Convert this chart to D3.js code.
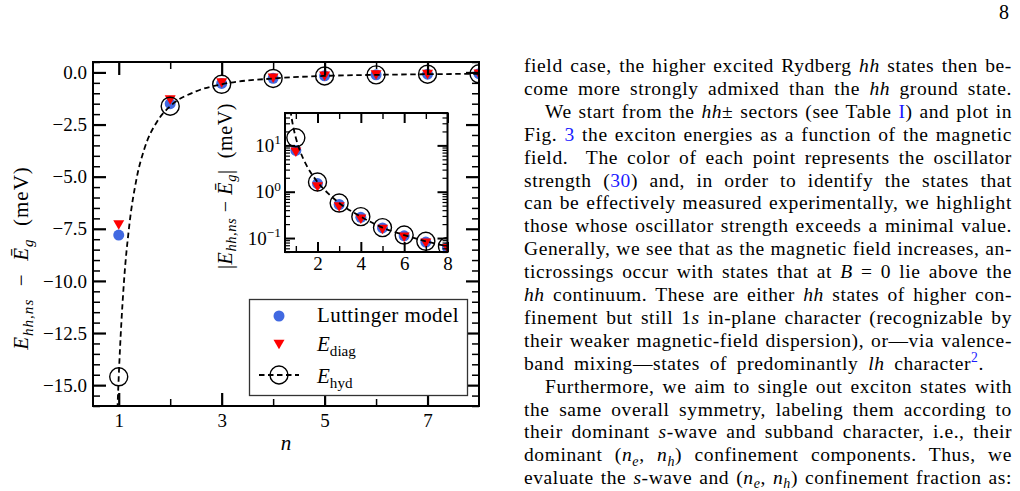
<!DOCTYPE html>
<meta charset="utf-8">
<style>
  body { margin: 0; background: #fff; }
  svg { display: block; font-family: "Liberation Serif", "Times New Roman", serif; }
  text { white-space: pre; }
</style>
<body>
<svg id="page" width="1020" height="491"></svg>
<script src="https://d3js.org/d3.v7.min.js"></script>
<script>

// values (meV)
var nVals = [1, 2, 3, 4, 5, 6, 7, 8];
var eLuttinger = [-7.8, -1.5, -0.53, -0.28, -0.165, -0.112, -0.082, -0.062];
var eDiag = [-7.3, -1.3, -0.48, -0.26, -0.157, -0.106, -0.079, -0.06];
var eHyd = [-14.6, -1.62, -0.57, -0.29, -0.168, -0.116, -0.085, -0.066];

// dashed E_hyd curve, sampled off the plot
var hydCurveN = [0.75, 0.8, 0.9, 0.97, 1.0, 1.1, 1.2, 1.35, 1.5, 1.75, 2, 2.5, 3, 4, 5, 6, 7, 8];
var hydCurveE = [-58, -40.5, -22.8, -16.5, -14.6, -10.1, -7.45, -5.05, -3.65, -2.34, -1.62, -0.91, -0.57, -0.29, -0.168, -0.116, -0.085, -0.066];

// ticks
var xTicksMain = [1, 3, 5, 7];
var xMinorMain = [2, 4, 6];
var yTicksMain = [0, -2.5, -5, -7.5, -10, -12.5, -15];
var xTicksInset = [2, 4, 6, 8];
var xMinorInset = [1, 3, 5, 7];
var yTicksInset = [10, 1, 0.1];

var svg = d3.select("#page");
svg.append("rect").attr("width", 1020).attr("height", 491).attr("fill", "#fff");

var BLUE = "#4169e1", RED = "#ff0000";

// mixed roman / italic / sub / sup text
function rich(t, segs, size) {
  var shift = 0;
  segs.forEach(function(s) {
    var kind = s[1] || "";
    var ts = t.append("tspan").text(s[0]);
    var want = 0;
    if (kind.indexOf("sub") >= 0) { want = size * 0.22; ts.attr("font-size", size * 0.72); }
    if (kind.indexOf("sup") >= 0) { want = -size * 0.4; ts.attr("font-size", size * 0.7); }
    if (want != shift) { ts.attr("dy", want - shift); shift = want; }
    if (kind.indexOf("i") == 0 || kind == "isub") ts.attr("font-style", "italic");
    if (kind.indexOf("link") >= 0 || kind == "sup") ts.attr("fill", "#1a1aff");
  });
  return t;
}

function styleAxis(g, w, size) {
  g.attr("font-family", null).attr("font-size", null);
  g.select(".domain").remove();
  g.selectAll(".tick line").attr("stroke", "#000").attr("stroke-width", w);
  g.selectAll(".tick text").attr("fill", "#000").attr("font-size", size);
}

// ---------------- main axes
var main = {left: 93, right: 479, top: 62, bottom: 406};
var x = d3.scaleLinear().domain([0.5, 8]).range([main.left, main.right]);
var y = d3.scaleLinear().domain([-16, 0.5]).range([main.bottom, main.top]);

var yMinorMain = d3.range(-16, 0.51, 0.5).filter(function(v) { return yTicksMain.indexOf(v) < 0; });

svg.append("clipPath").attr("id", "clipMain").append("rect")
  .attr("x", main.left).attr("y", main.top)
  .attr("width", main.right - main.left).attr("height", main.bottom - main.top);

var gm = svg.append("g").attr("clip-path", "url(#clipMain)");

gm.selectAll(".lut").data(nVals).enter().append("circle")
  .attr("cx", function(d) { return x(d); })
  .attr("cy", function(d, i) { return y(eLuttinger[i]); })
  .attr("r", 5.5).attr("fill", BLUE);

var tri = "M-5.5,-4.3L5.5,-4.3L0,5.2Z";
gm.selectAll(".diag").data(nVals).enter().append("path")
  .attr("d", tri)
  .attr("transform", function(d, i) { return "translate(" + x(d) + "," + y(eDiag[i]) + ")"; })
  .attr("fill", RED);

var lineMain = d3.line().curve(d3.curveMonotoneX)
  .x(function(d) { return x(d); })
  .y(function(d, i) { return y(hydCurveE[i]); });
gm.append("path").attr("d", lineMain(hydCurveN))
  .attr("fill", "none").attr("stroke", "#000").attr("stroke-width", 1.8)
  .attr("stroke-dasharray", "5.5,3.5");

gm.selectAll(".hyd").data(nVals).enter().append("circle")
  .attr("cx", function(d) { return x(d); })
  .attr("cy", function(d, i) { return y(eHyd[i]); })
  .attr("r", 9).attr("fill", "none").attr("stroke", "#000").attr("stroke-width", 1.4);

// ticks, all pointing inwards
styleAxis(svg.append("g").attr("transform", "translate(0," + main.bottom + ")")
  .call(d3.axisBottom(x).tickValues(xTicksMain).tickSize(-13).tickPadding(8).tickFormat(d3.format("d"))), 2.2, 19);
styleAxis(svg.append("g").attr("transform", "translate(0," + main.bottom + ")")
  .call(d3.axisBottom(x).tickValues(xMinorMain).tickSize(-7).tickFormat("")), 1.5, 19);
styleAxis(svg.append("g").attr("transform", "translate(0," + main.top + ")")
  .call(d3.axisTop(x).tickValues(xTicksMain).tickSize(-13).tickFormat("")), 2.2, 19);
styleAxis(svg.append("g").attr("transform", "translate(0," + main.top + ")")
  .call(d3.axisTop(x).tickValues(xMinorMain).tickSize(-7).tickFormat("")), 1.5, 19);
styleAxis(svg.append("g").attr("transform", "translate(" + main.left + ",0)")
  .call(d3.axisLeft(y).tickValues(yTicksMain).tickSize(-13).tickPadding(6).tickFormat(d3.format(".1f"))), 2.2, 19);
styleAxis(svg.append("g").attr("transform", "translate(" + main.left + ",0)")
  .call(d3.axisLeft(y).tickValues(yMinorMain).tickSize(-7).tickFormat("")), 1.5, 19);
styleAxis(svg.append("g").attr("transform", "translate(" + main.right + ",0)")
  .call(d3.axisRight(y).tickValues(yTicksMain).tickSize(-13).tickFormat("")), 2.2, 19);
styleAxis(svg.append("g").attr("transform", "translate(" + main.right + ",0)")
  .call(d3.axisRight(y).tickValues(yMinorMain).tickSize(-7).tickFormat("")), 1.5, 19);

svg.append("rect").attr("x", main.left).attr("y", main.top)
  .attr("width", main.right - main.left).attr("height", main.bottom - main.top)
  .attr("fill", "none").attr("stroke", "#000").attr("stroke-width", 2);

// axis labels
svg.append("text").attr("x", (main.left + main.right) / 2).attr("y", 450)
  .attr("text-anchor", "middle").attr("font-size", 21).attr("font-style", "italic").text("n");

rich(svg.append("text").attr("transform", "translate(28,258) rotate(-90)")
  .attr("text-anchor", "middle").attr("font-size", 21).attr("letter-spacing", 1.0),
  [["E", "i"], ["hh,ns", "isub"], ["  −  "], ["Ē", "i"], ["g", "isub"], ["  (meV)"]], 21);

// ---------------- inset
var inset = {left: 285, right: 447.5, top: 113, bottom: 252};
var xi = d3.scaleLinear().domain([0.5, 8]).range([inset.left, inset.right]);
var yi = d3.scaleLog().domain([0.05, 50]).range([inset.bottom, inset.top]);

var yMinorInset = [];
[0.01, 0.1, 1, 10].forEach(function(dec) {
  for (var k = 2; k <= 9; k++) {
    var v = +(k * dec).toPrecision(2);
    if (v >= 0.05 && v <= 50) yMinorInset.push(v);
  }
});

svg.append("rect").attr("x", inset.left).attr("y", inset.top)
  .attr("width", inset.right - inset.left).attr("height", inset.bottom - inset.top)
  .attr("fill", "#fff");

svg.append("clipPath").attr("id", "clipInset").append("rect")
  .attr("x", inset.left).attr("y", inset.top)
  .attr("width", inset.right - inset.left).attr("height", inset.bottom - inset.top);

var gi = svg.append("g").attr("clip-path", "url(#clipInset)");

gi.selectAll(".lut").data(nVals).enter().append("circle")
  .attr("cx", function(d) { return xi(d); })
  .attr("cy", function(d, i) { return yi(Math.abs(eLuttinger[i])); })
  .attr("r", 5.5).attr("fill", BLUE);

gi.selectAll(".diag").data(nVals).enter().append("path")
  .attr("d", tri)
  .attr("transform", function(d, i) { return "translate(" + xi(d) + "," + yi(Math.abs(eDiag[i])) + ")"; })
  .attr("fill", RED);

var lineInset = d3.line().curve(d3.curveMonotoneX)
  .x(function(d) { return xi(d); })
  .y(function(d, i) { return yi(Math.abs(hydCurveE[i])); });
gi.append("path").attr("d", lineInset(hydCurveN))
  .attr("fill", "none").attr("stroke", "#000").attr("stroke-width", 1.8)
  .attr("stroke-dasharray", "5.5,3.5");

gi.selectAll(".hyd").data(nVals).enter().append("circle")
  .attr("cx", function(d) { return xi(d); })
  .attr("cy", function(d, i) { return yi(Math.abs(eHyd[i])); })
  .attr("r", 9).attr("fill", "none").attr("stroke", "#000").attr("stroke-width", 1.4);

styleAxis(svg.append("g").attr("transform", "translate(0," + inset.bottom + ")")
  .call(d3.axisBottom(xi).tickValues(xTicksInset).tickSize(-10).tickPadding(5).tickFormat(d3.format("d"))), 2, 19);
styleAxis(svg.append("g").attr("transform", "translate(0," + inset.bottom + ")")
  .call(d3.axisBottom(xi).tickValues(xMinorInset).tickSize(-6).tickFormat("")), 1.4, 19);
styleAxis(svg.append("g").attr("transform", "translate(0," + inset.top + ")")
  .call(d3.axisTop(xi).tickValues(xTicksInset).tickSize(-10).tickFormat("")), 2, 19);
styleAxis(svg.append("g").attr("transform", "translate(0," + inset.top + ")")
  .call(d3.axisTop(xi).tickValues(xMinorInset).tickSize(-6).tickFormat("")), 1.4, 19);

var yiAxis = svg.append("g").attr("transform", "translate(" + inset.left + ",0)")
  .call(d3.axisLeft(yi).tickValues(yTicksInset).tickSize(-10).tickPadding(4).tickFormat(""));
styleAxis(yiAxis, 2, 19);
yiAxis.selectAll(".tick text").each(function(d) {
  var e = Math.round(Math.log10(d));
  rich(d3.select(this), [["10"], [e < 0 ? "−" + (-e) : "" + e, "supk"]], 19);
});
yiAxis.selectAll(".tick text tspan").attr("fill", "#000");
styleAxis(svg.append("g").attr("transform", "translate(" + inset.left + ",0)")
  .call(d3.axisLeft(yi).tickValues(yMinorInset).tickSize(-5).tickFormat("")), 1.2, 19);
styleAxis(svg.append("g").attr("transform", "translate(" + inset.right + ",0)")
  .call(d3.axisRight(yi).tickValues(yTicksInset).tickSize(-10).tickFormat("")), 2, 19);
styleAxis(svg.append("g").attr("transform", "translate(" + inset.right + ",0)")
  .call(d3.axisRight(yi).tickValues(yMinorInset).tickSize(-5).tickFormat("")), 1.2, 19);

svg.append("rect").attr("x", inset.left).attr("y", inset.top)
  .attr("width", inset.right - inset.left).attr("height", inset.bottom - inset.top)
  .attr("fill", "none").attr("stroke", "#000").attr("stroke-width", 2);

rich(svg.append("text").attr("transform", "translate(232,186) rotate(-90)")
  .attr("text-anchor", "middle").attr("font-size", 20).attr("letter-spacing", 0.6),
  [["|"], ["E", "i"], ["hh,ns", "isub"], [" − "], ["Ē", "i"], ["g", "isub"], ["|  (meV)"]], 20);

// ---------------- legend
var lg = svg.append("g");
lg.append("rect").attr("x", 249.5).attr("y", 299.5).attr("width", 218).attr("height", 96)
  .attr("fill", "#fff").attr("stroke", "#333").attr("stroke-width", 1.3);
lg.append("circle").attr("cx", 279).attr("cy", 316).attr("r", 5.5).attr("fill", BLUE);
lg.append("path").attr("d", tri).attr("transform", "translate(279,344)").attr("fill", RED);
lg.append("line").attr("x1", 259).attr("x2", 299).attr("y1", 375).attr("y2", 375)
  .attr("stroke", "#000").attr("stroke-width", 1.8).attr("stroke-dasharray", "5.5,3.5");
lg.append("circle").attr("cx", 279).attr("cy", 375).attr("r", 9)
  .attr("fill", "none").attr("stroke", "#000").attr("stroke-width", 1.4);
lg.append("text").attr("x", 317).attr("y", 322).attr("font-size", 21).attr("letter-spacing", 0.4).text("Luttinger model");
rich(lg.append("text").attr("x", 317).attr("y", 351).attr("font-size", 21), [["E", "i"], ["diag", "sub"]], 21);
rich(lg.append("text").attr("x", 317).attr("y", 383).attr("font-size", 21), [["E", "i"], ["hyd", "sub"]], 21);

// ---------------- page text
svg.append("text").attr("x", 1009).attr("y", 19).attr("text-anchor", "end").attr("font-size", 20).text("8");

var bodyLines = [
  [["field case, the higher excited Rydberg "], ["hh", "i"], [" states then be-"]],
  [["come more strongly admixed than the "], ["hh", "i"], [" ground state."]],
  [["We start from the "], ["hh", "i"], ["± sectors (see Table "], ["I", "link"], [") and plot in"]],
  [["Fig. "], ["3", "link"], [" the exciton energies as a function of the magnetic"]],
  [["field.  The color of each point represents the oscillator"]],
  [["strength ("], ["30", "link"], [") and, in order to identify the states that"]],
  [["can be effectively measured experimentally, we highlight"]],
  [["those whose oscillator strength exceeds a minimal value."]],
  [["Generally, we see that as the magnetic field increases, an-"]],
  [["ticrossings occur with states that at "], ["B", "i"], [" = 0 lie above the"]],
  [["hh", "i"], [" continuum. These are either "], ["hh", "i"], [" states of higher con-"]],
  [["finement but still 1"], ["s", "i"], [" in-plane character (recognizable by"]],
  [["their weaker magnetic-field dispersion), or—via valence-"]],
  [["band mixing—states of predominantly "], ["lh", "i"], [" character"], ["2", "sup"], ["."]],
  [["Furthermore, we aim to single out exciton states with"]],
  [["the same overall symmetry, labeling them according to"]],
  [["their dominant "], ["s", "i"], ["-wave and subband character, i.e., their"]],
  [["dominant ("], ["n", "i"], ["e", "isub"], [","], [" "], ["n", "i"], ["h", "isub"], [") confinement components. Thus, we"]],
  [["evaluate the "], ["s", "i"], ["-wave and ("], ["n", "i"], ["e", "isub"], [","], [" "], ["n", "i"], ["h", "isub"], [") confinement fraction as:"]]
];
var indentLines = [2, 14];
var lineRight = {13: 984};

bodyLines.forEach(function(segs, i) {
  var x0 = indentLines.indexOf(i) >= 0 ? 545 : 524;
  var x1 = lineRight[i] || 1012;
  var t = svg.append("text").attr("x", x0).attr("y", 72 + i * 22.9)
    .attr("font-size", 19.5).attr("letter-spacing", 0.6);
  rich(t, segs, 19.5);
  var full = segs.map(function(s) { return s[0]; }).join("");
  var spaces = (full.match(/ /g) || []).length;
  var w = t.node().getComputedTextLength();
  if (spaces > 0) t.attr("word-spacing", ((x1 - x0 - w) / spaces).toFixed(2));
});

</script>
</body>
